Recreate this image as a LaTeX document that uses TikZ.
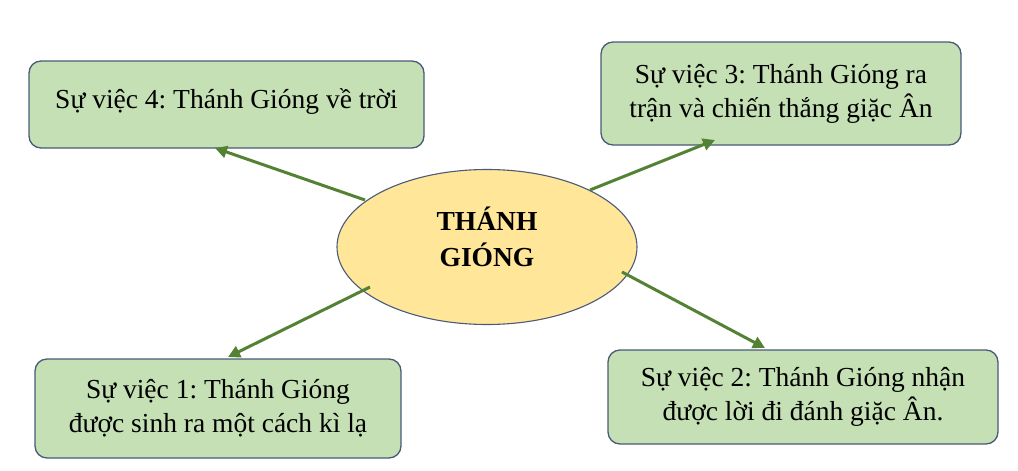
\documentclass[tikz,border=0pt]{standalone}
\usepackage{fontspec}
\setmainfont{Liberation Serif}
\usetikzlibrary{shapes.geometric,arrows.meta}
\definecolor{boxfill}{HTML}{C5E0B4}
\definecolor{boxline}{HTML}{4A5A78}
\definecolor{ellfill}{HTML}{FFE699}
\definecolor{arrowgreen}{HTML}{548235}
\tikzset{
  box/.style={draw=boxline, line width=1.3pt, fill=boxfill, rounded corners=12pt, align=center,
    font=\fontsize{27.5}{34}\selectfont\frenchspacing, inner sep=0pt},
  centre/.style={ellipse, draw=boxline, line width=1.1pt, fill=ellfill, align=center,
    font=\fontsize{27.5}{36}\selectfont\bfseries, inner sep=0pt},
  link/.style={draw=arrowgreen, line width=3pt, -{Triangle[length=12pt,width=12pt]}}
}
\begin{document}
\begin{tikzpicture}[x=1pt,y=-1pt]
\useasboundingbox (0,0) rectangle (1018,471);
\node[centre, minimum width=300pt, minimum height=155pt] (c) at (487,247) {THÁNH\\GIÓNG\\[-15pt]\mbox{}};
\node[box, minimum width=395pt, minimum height=87pt] (b4) at (226.5,104.5) {Sự việc 4: Thánh Gióng về trời\\[-22pt]\mbox{}};
\node[box, minimum width=360pt, minimum height=103pt] (b3) at (781,93.5) {Sự việc 3: Thánh Gióng ra\\trận và chiến thắng giặc Ân};
\node[box, minimum width=366pt, minimum height=99pt] (b1) at (218,408.5) {Sự việc 1: Thánh Gióng\\được sinh ra một cách kì lạ};
\node[box, minimum width=390pt, minimum height=94pt] (b2) at (803,397) {Sự việc 2: Thánh Gióng nhận\\được lời đi đánh giặc Ân.};
\coordinate (t4) at (215,148);
\coordinate (t3) at (715,140);
\coordinate (t1) at (228,357);
\coordinate (t2) at (765,348);
\coordinate (s4) at (365,200);
\coordinate (s3) at (590,190);
\coordinate (s1) at (370,287);
\coordinate (s2) at (622,272);
\draw[link] (s4) -- (t4);
\draw[link] (s3) -- (t3);
\draw[link] (s1) -- (t1);
\draw[link] (s2) -- (t2);
\end{tikzpicture}
\end{document}
